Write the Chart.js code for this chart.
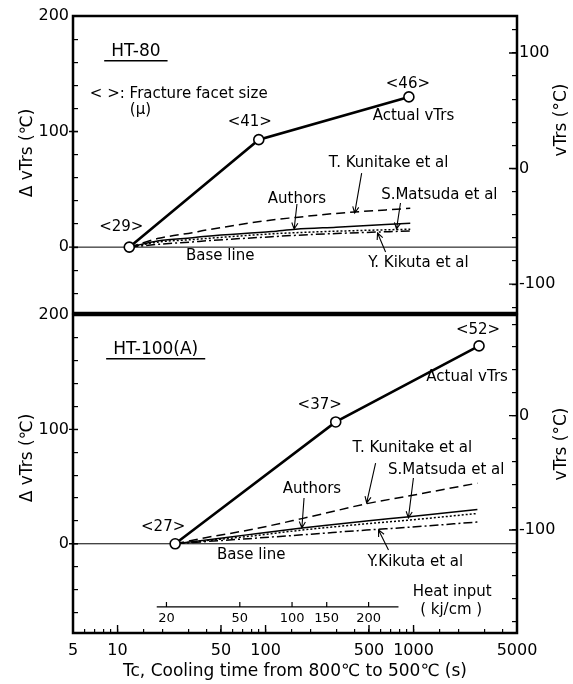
<!DOCTYPE html>
<html>
<head>
<meta charset="utf-8">
<script src="https://cdn.jsdelivr.net/npm/chart.js@4.4.1/dist/chart.umd.min.js"></script>
<style>
  body { margin: 0; background: #fff; }
  canvas { position: absolute; left: 0; }
  #top { top: 0; }
  #bottom { top: 280px; }
</style>
</head>
<body>
<canvas id="top" width="573" height="320"></canvas>
<canvas id="bottom" width="573" height="404"></canvas>
<script>
// x axis (cooling time, s)
const xLabels = [5, 10, 50, 100, 500, 1000, 5000];
const baseX = [5, 5000];
const baseY = [0, 0];

// HT-80
const tcTop = [12, 90, 930];
const vtrsTop = [0, 93, 130];
const facetTop = ['<29>', '<41>', '<46>'];
const curveXTop = [12, 19, 32, 40, 110, 160, 300, 950];
const kunitakeTop = [0, 7.6, 12.5, 14.8, 23.5, 25.7, 29.2, 33.6];
const authorsTop = [0, 5.5, 8.2, 9.5, 13.5, 15.5, 17.3, 20.6];
const matsudaTop = [0, 4.5, 6.5, 7.5, 11.5, 12.5, 13.8, 15.5];
const kikutaTop = [0, 2.5, 4.5, 5.5, 9, 10.2, 11.8, 14];

// HT-100(A)
const tcBottom = [24.5, 298, 2770];
const vtrsBottom = [0, 106.5, 173];
const facetBottom = ['<27>', '<37>', '<52>'];
const curveXBottom = [24.5, 40, 77, 176, 250, 480, 900, 2700];
const kunitakeBottom = [0, 5.5, 12, 22, 26.5, 35, 41.5, 53];
const authorsBottom = [0, 3.4, 8, 13.7, 16, 20, 23.5, 30];
const matsudaBottom = [0, 2.8, 6.5, 12, 14, 17.5, 20.5, 26.5];
const kikutaBottom = [0, 2, 4.5, 7.8, 9.3, 12, 14.3, 19];

// heat input scale (kJ/cm) and the cooling time it sits at
const heatInput = [20, 50, 100, 150, 200];
const heatInputTc = [21.4, 67, 151, 259, 497];
const heatLine = [18.4, 791];

const FONT = "'DejaVu Sans', Verdana, sans-serif";
Chart.defaults.font.family = FONT;
Chart.defaults.color = '#000';

function pts(xs, ys) {
  return xs.map((x, i) => ({ x: x, y: ys[i] }));
}

function makeDatasets(tc, vtrs, cx, kun, aut, mat, kik) {
  const thin = { borderColor: '#000', borderWidth: 1.5, pointRadius: 0, cubicInterpolationMode: 'monotone' };
  return [
    { label: 'Actual vTrs', data: pts(tc, vtrs), borderColor: '#000', borderWidth: 2.6,
      pointRadius: 5, pointBackgroundColor: '#fff', pointBorderColor: '#000', pointBorderWidth: 1.6 },
    Object.assign({ label: 'T. Kunitake et al', data: pts(cx, kun), borderDash: [9, 5] }, thin),
    Object.assign({ label: 'Authors', data: pts(cx, aut) }, thin),
    Object.assign({ label: 'S.Matsuda et al', data: pts(cx, mat), borderDash: [2, 2] }, thin),
    Object.assign({ label: 'Y.Kikuta et al', data: pts(cx, kik), borderDash: [9, 3, 2, 3] }, thin),
    { label: 'Base line', data: pts(baseX, baseY), borderColor: '#000', borderWidth: 1, pointRadius: 0 }
  ];
}

function yAxis(pos, min, max, width) {
  return {
    position: pos, min: min, max: max,
    ticks: { stepSize: 20, includeBounds: false, autoSkip: false, padding: pos === 'left' ? 9 : 7,
      font: { size: 16 }, callback: v => (v % 100 === 0 ? String(v) : '') },
    grid: { drawOnChartArea: false, tickLength: -5, color: '#000', lineWidth: 1.2 },
    border: { display: false },
    afterFit: s => { s.width = width; s.paddingTop = 0; s.paddingBottom = 0; }
  };
}

function text(ctx, t, x, y, size, align) {
  ctx.font = size + 'px ' + FONT;
  ctx.textAlign = align || 'center';
  ctx.textBaseline = 'middle';
  ctx.fillText(t, x, y);
}

function vtext(ctx, t, x, y) {
  ctx.save();
  ctx.translate(x, y);
  ctx.rotate(-Math.PI / 2);
  text(ctx, t, 0, 0, 17);
  ctx.restore();
}

function arrow(ctx, x1, y1, x2, y2) {
  const ang = Math.atan2(y2 - y1, x2 - x1), L = 7, w = 0.45;
  ctx.beginPath();
  ctx.moveTo(x1, y1); ctx.lineTo(x2, y2);
  ctx.moveTo(x2 - L * Math.cos(ang - w), y2 - L * Math.sin(ang - w));
  ctx.lineTo(x2, y2);
  ctx.lineTo(x2 - L * Math.cos(ang + w), y2 - L * Math.sin(ang + w));
  ctx.stroke();
}

function deco(p) {
  return {
    id: 'deco',
    afterDraw(chart) {
      const ctx = chart.ctx, xs = chart.scales.x, ys = chart.scales.y, y2 = chart.scales.y2, a = chart.chartArea;
      const X = v => xs.getPixelForValue(v), Y = v => ys.getPixelForValue(v);
      ctx.save();
      ctx.strokeStyle = '#000';
      ctx.fillStyle = '#000';
      ctx.lineWidth = 2.5;
      ctx.strokeRect(a.left, a.top, a.right - a.left, a.bottom - a.top);

      // longer marks at the labelled ticks
      ctx.lineWidth = 1.4;
      ctx.beginPath();
      [0, 100].forEach(v => { ctx.moveTo(a.left - 4, Y(v)); ctx.lineTo(a.left + 5, Y(v)); });
      y2.ticks.forEach(t => {
        if (t.value % 100 === 0) { ctx.moveTo(a.right - 8, y2.getPixelForValue(t.value)); ctx.lineTo(a.right, y2.getPixelForValue(t.value)); }
      });
      if (p.showX) xLabels.forEach(v => { ctx.moveTo(X(v), a.bottom); ctx.lineTo(X(v), a.bottom - 8); });
      ctx.stroke();

      // panel title, underlined
      ctx.lineWidth = 1.5;
      text(ctx, p.name[0], X(p.name[1]), Y(p.name[2]), 17);
      const w = ctx.measureText(p.name[0]).width + 14;
      ctx.beginPath();
      ctx.moveTo(X(p.name[1]) - w / 2, Y(p.name[2]) + 9);
      ctx.lineTo(X(p.name[1]) + w / 2, Y(p.name[2]) + 9);
      ctx.stroke();

      // facet size next to each point
      p.facets.forEach((f, i) => {
        text(ctx, f, X(p.tc[i]) + p.facetOff[i][0], Y(p.vtrs[i]) + p.facetOff[i][1], 15);
      });
      p.notes.forEach(n => text(ctx, n[0], X(n[1]), Y(n[2]), 15, n[3]));
      ctx.lineWidth = 1.1;
      p.arrows.forEach(r => arrow(ctx, X(r[0]), Y(r[1]), X(r[2]), Y(r[3])));

      if (p.heat) {
        const hy = Y(-55.2);
        ctx.lineWidth = 1.2;
        ctx.beginPath();
        ctx.moveTo(X(heatLine[0]), hy); ctx.lineTo(X(heatLine[1]), hy);
        heatInputTc.forEach(t => { ctx.moveTo(X(t), hy); ctx.lineTo(X(t), hy - 5); });
        ctx.stroke();
        heatInput.forEach((h, i) => text(ctx, String(h), X(heatInputTc[i]), hy + 12, 13));
      }

      vtext(ctx, 'Δ vTrs (℃)', 28, p.titleY[0]);
      vtext(ctx, 'vTrs (°C)', 562, p.titleY[1]);
      ctx.restore();
    }
  };
}

function makeChart(id, p) {
  const showX = !!p.showX;
  const xScale = {
    type: 'logarithmic', min: 5, max: 5000, display: showX,
    ticks: { autoSkip: false, maxRotation: 0, padding: 12, font: { size: 16 },
      callback: v => (xLabels.includes(Math.round(v)) ? String(Math.round(v)) : '') },
    grid: { drawOnChartArea: false, tickLength: -4, color: '#000', lineWidth: 1.2 },
    border: { display: false },
    title: { display: showX, text: 'Tc, Cooling time from 800℃ to 500℃ (s)', font: { size: 17 },
      padding: { top: 0, bottom: 2 } }
  };
  if (showX) xScale.afterFit = s => { s.height = 51; };
  return new Chart(document.getElementById(id), {
    type: 'line',
    data: { datasets: makeDatasets(p.tc, p.vtrs, p.cx, p.kun, p.aut, p.mat, p.kik) },
    options: {
      responsive: false,
      animation: false,
      devicePixelRatio: 1,
      layout: { padding: { top: p.padTop, bottom: p.padBottom, left: 0, right: 0 } },
      plugins: { legend: { display: false }, tooltip: { enabled: false } },
      scales: {
        x: xScale,
        y: yAxis('left', p.yMin, 200, 73),
        y2: yAxis('right', p.y2Min, p.y2Max, 56)
      }
    },
    plugins: [deco(p)]
  });
}

makeChart('top', {
  tc: tcTop, vtrs: vtrsTop, cx: curveXTop,
  kun: kunitakeTop, aut: authorsTop, mat: matsudaTop, kik: kikutaTop,
  yMin: -57, y2Min: -125, y2Max: 132, padTop: 16, padBottom: 7,
  name: ['HT-80', 13.3, 169],
  facets: facetTop, facetOff: [[-8, -20], [-9, -18], [-1, -13]],
  notes: [
    ['< >: Fracture facet size', 6.5, 132.4, 'left'],
    ['(μ)', 12.1, 118.7, 'left'],
    ['Actual vTrs', 998, 113.4],
    ['T. Kunitake et al', 678, 72.8],
    ['S.Matsuda et al', 1493, 45.1],
    ['Authors', 163, 41.6],
    ['Y. Kikuta et al', 1079, -13.8],
    ['Base line', 49.4, -7.7]
  ],
  arrows: [[446, 64, 400, 29.5], [816, 38.2, 767, 15.6], [163, 37.3, 156, 15.6], [647, -4.2, 571, 12.2]],
  titleY: [153, 120]
});

makeChart('bottom', {
  tc: tcBottom, vtrs: vtrsBottom, cx: curveXBottom,
  kun: kunitakeBottom, aut: authorsBottom, mat: matsudaBottom, kik: kikutaBottom,
  yMin: -78, y2Min: -190, y2Max: 88, padTop: 35, padBottom: 0, showX: true,
  name: ['HT-100(A)', 18.1, 169.6],
  facets: facetBottom, facetOff: [[-12, -17], [-16, -17], [-1, -16]],
  notes: [
    ['Actual vTrs', 2300, 145.8],
    ['T. Kunitake et al', 982, 83.7],
    ['S.Matsuda et al', 1663, 64.5],
    ['Authors', 206, 47.9],
    ['Y.Kikuta et al', 1028, -15.9],
    ['Base line', 80, -9.8],
    ['Heat input', 1825, -42.2],
    ['( kj/cm )', 1795, -57.9]
  ],
  arrows: [[554, 70.6, 482, 35.7], [998, 57.5, 923, 22.6], [182, 40, 176, 13.8], [677, -5.4, 580, 12.1]],
  heat: true,
  titleY: [178, 164]
});
</script>
</body>
</html>
